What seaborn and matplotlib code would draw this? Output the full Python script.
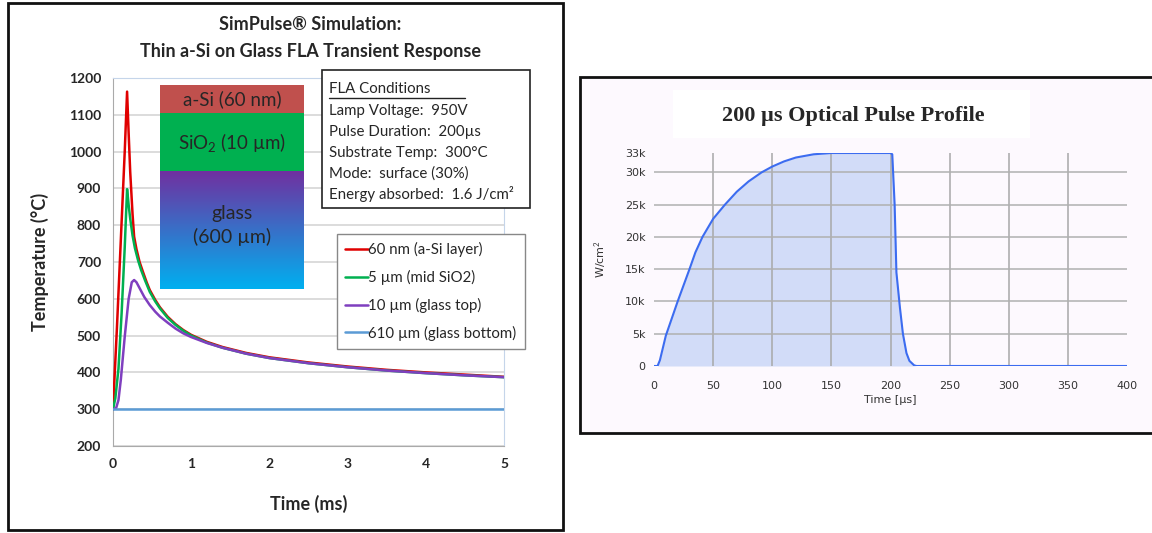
import numpy as np
import pandas as pd
import matplotlib.pyplot as plt
import seaborn as sns
from matplotlib.patches import Rectangle

# data
t_asi = [0, 0.05, 0.10, 0.15, 0.18, 0.20, 0.22, 0.25, 0.27, 0.30, 0.34, 0.38, 0.43, 0.47, 0.54,
         0.60, 0.70, 0.80, 0.90, 1.0, 1.2, 1.4, 1.7, 2.0, 2.5, 3.0, 3.5, 4.0, 4.5, 5.0]
temp_asi = [300, 520, 760, 1000, 1163, 1050, 945, 830, 769, 735, 700, 675, 645, 624, 597,
            577, 551, 531, 515, 502, 483, 469, 453, 441, 427, 416, 407, 400, 394, 388]

t_sio2 = [0, 0.03, 0.07, 0.11, 0.15, 0.18, 0.20, 0.22, 0.25, 0.28, 0.32, 0.36, 0.41, 0.47, 0.54,
          0.60, 0.70, 0.80, 0.90, 1.0, 1.2, 1.4, 1.7, 2.0, 2.5, 3.0, 3.5, 4.0, 4.5, 5.0]
temp_sio2 = [300, 330, 410, 560, 740, 898, 855, 818, 772, 738, 705, 678, 650, 619, 593,
             574, 548, 529, 513, 500, 481, 467, 451, 439, 425, 414, 405, 398, 392, 387]

t_glass = [0, 0.04, 0.07, 0.10, 0.15, 0.20, 0.24, 0.27, 0.30, 0.35, 0.40, 0.47, 0.54, 0.60,
           0.70, 0.80, 0.90, 1.0, 1.2, 1.4, 1.7, 2.0, 2.5, 3.0, 3.5, 4.0, 4.5, 5.0]
temp_glass = [300, 303, 325, 380, 497, 600, 645, 651, 645, 625, 605, 583, 565, 552,
              535, 519, 506, 496, 480, 467, 451, 439, 425, 414, 405, 398, 392, 387]

t_bottom = [0, 5]
temp_bottom = [300, 300]

series_names = ["60 nm (a-Si layer)", "5 µm (mid SiO2)", "10 µm (glass top)", "610 µm (glass bottom)"]
series_colors = ["#e00000", "#00b050", "#7f3fbf", "#5b9bd5"]

pulse_t = [0, 3, 5, 10, 20, 30, 35, 41, 50, 60, 70, 80, 91, 100, 110, 120, 135, 150, 200,
           201.5, 203.5, 205, 208, 210.5, 213.5, 216, 220, 222, 400]
pulse_w = [0, 0, 900, 4700, 10000, 15000, 17600, 20000, 22800, 25000, 27000, 28600, 30000, 30900,
           31700, 32300, 32800, 33000, 33000, 32800, 25000, 14500, 9000, 5000, 2000, 800, 100, 0, 0]

fla_lines = ["Lamp Voltage:  950V", "Pulse Duration:  200µs", "Substrate Temp:  300°C",
             "Mode:  surface (30%)", "Energy absorbed:  1.6 J/cm²"]

frames = []
for name, t, v in zip(series_names, [t_asi, t_sio2, t_glass, t_bottom],
                      [temp_asi, temp_sio2, temp_glass, temp_bottom]):
    frames.append(pd.DataFrame({"time": t, "temp": v, "depth": name}))
df = pd.concat(frames, ignore_index=True)
pulse = pd.DataFrame({"time": pulse_t, "power": pulse_w})

sns.set_style("white")
plt.rcParams["font.family"] = ["Lato", "DejaVu Sans"]
plt.rcParams["mathtext.fontset"] = "custom"
plt.rcParams["mathtext.rm"] = "Lato"

fig = plt.figure(figsize=(11.52, 5.33), dpi=100)
W, H = 1152, 533

def fx(px):
    return px / W

def fy(py):
    return 1 - py / H

# panel frames (behind the axes)
fig.patches.append(Rectangle((fx(8), fy(530)), fx(555), 527 / H, transform=fig.transFigure,
                             facecolor="white", edgecolor="#111111", lw=2, zorder=-2))
fig.patches.append(Rectangle((fx(580), fy(433)), fx(600), 356 / H, transform=fig.transFigure,
                             facecolor="#fdf9fe", edgecolor="#111111", lw=2, zorder=-2))
fig.patches.append(Rectangle((fx(673), fy(138)), fx(357), 48 / H, transform=fig.transFigure,
                             facecolor="white", edgecolor="none", zorder=-1))

# ---- left: temperature transient
ax1 = fig.add_axes([fx(113), fy(446), fx(391), 368 / H])
ax1.set_facecolor("none")
sns.lineplot(data=df, x="time", y="temp", hue="depth", palette=series_colors,
             hue_order=series_names, lw=1.8, ax=ax1, legend=False, sort=False, zorder=3)
ax1.yaxis.grid(True, color="#d9d9d9", lw=1.3)
ax1.set_axisbelow(True)
ax1.tick_params(axis="both", direction="out", length=5, color="#999999", labelsize=10)
for s in ["left", "bottom"]:
    ax1.spines[s].set_color("#aaaaaa")
for s in ["top", "right"]:
    ax1.spines[s].set_color("#c5d5ea")
ax1.set_xlabel("Time (ms)", fontsize=13, fontweight="bold", labelpad=18)
ax1.set_ylabel("Temperature (°C)", fontsize=13, fontweight="bold", labelpad=14)
fig.text(fx(310), fy(25), "SimPulse® Simulation:", ha="center", va="center", fontsize=13, fontweight="bold")
fig.text(fx(310), fy(51), "Thin a-Si on Glass FLA Transient Response", ha="center", va="center",
         fontsize=13, fontweight="bold")

# layer stack
x0, x1 = 0.6, 2.44
ax1.add_patch(Rectangle((x0, 1105), x1 - x0, 1181 - 1105, facecolor="#c0504d", edgecolor="none", zorder=2))
ax1.add_patch(Rectangle((x0, 947), x1 - x0, 1105 - 947, facecolor="#00b050", edgecolor="none", zorder=2))
grad = np.linspace(0, 1, 256).reshape(-1, 1)
cmap = sns.blend_palette(["#7030a0", "#00b0f0"], as_cmap=True)
ax1.imshow(grad, extent=[x0, x1, 627, 947], origin="upper", cmap=cmap, aspect="auto", zorder=2)
ax1.set_xlim(0, 5)
ax1.set_ylim(200, 1200)
ax1.set_xticks(range(0, 6))
ax1.set_yticks(range(200, 1201, 100))
for lab in ax1.get_xticklabels() + ax1.get_yticklabels():
    lab.set_fontweight("bold")
xc = (x0 + x1) / 2
ax1.text(xc, 1143, "a-Si (60 nm)", ha="center", va="center", fontsize=13.5, zorder=4)
ax1.text(xc, 1024, "SiO$\\mathregular{_2}$ (10 µm)", ha="center", va="center", fontsize=13.5, zorder=4)
ax1.text(xc, 800, "glass\n(600 µm)", ha="center", va="center", fontsize=14, linespacing=1.4, zorder=4)

# FLA conditions box
fig.patches.append(Rectangle((fx(322), fy(208)), fx(208), 138 / H, transform=fig.transFigure,
                             facecolor="white", edgecolor="#222222", lw=1.2, zorder=5))
fig.text(fx(329), fy(89), "FLA Conditions", ha="left", va="center", fontsize=10.8, zorder=6)
fig.add_artist(plt.Line2D([fx(329), fx(465)], [fy(98), fy(98)], color="#222222", lw=1, zorder=6))
for i, line in enumerate(fla_lines):
    fig.text(fx(329), fy(111 + i * 20.8), line, ha="left", va="center", fontsize=10.8, zorder=6)

handles = [plt.Line2D([], [], color=c, lw=1.8) for c in series_colors]
leg = ax1.legend(handles, series_names, loc="upper left", bbox_to_anchor=(fx(337), fy(234)),
                 bbox_transform=fig.transFigure, borderaxespad=0, fontsize=10.8, handlelength=1.5,
                 handletextpad=0.05, labelspacing=0.85, fancybox=False, framealpha=1,
                 edgecolor="#888888", borderpad=0.55)
leg.set_zorder(6)

# ---- right: optical pulse profile
ax2 = fig.add_axes([fx(654), fy(366), fx(473), 213 / H])
ax2.set_facecolor("none")
ax2.fill_between(pulse["time"], pulse["power"], color="#d2dcf8", lw=0, zorder=1)
sns.lineplot(data=pulse, x="time", y="power", color="#3c6cf0", lw=1.5, ax=ax2, zorder=3)
ax2.set_xlim(0, 400)
ax2.set_ylim(0, 33000)
ax2.set_xticks(range(0, 401, 50))
ax2.set_yticks([0, 5000, 10000, 15000, 20000, 25000, 30000, 33000])
ax2.set_yticklabels(["0", "5k", "10k", "15k", "20k", "25k", "30k", "33k"])
for v in range(50, 400, 50):
    ax2.axvline(v, color="#a8a8a8", lw=1.1, zorder=2)
for v in range(5000, 30001, 5000):
    ax2.axhline(v, color="#b0b0b0", lw=1.1, zorder=2)
for s in ax2.spines.values():
    s.set_visible(False)
ax2.tick_params(axis="x", length=2, color="#cccccc", labelsize=8, labelcolor="#333333", pad=9)
ax2.tick_params(axis="y", length=0, labelsize=8, labelcolor="#333333", pad=6)
for lab in ax2.get_xticklabels() + ax2.get_yticklabels():
    lab.set_fontfamily("DejaVu Sans")
ax2.set_xlabel("Time [µs]", fontsize=8, color="#333333", family="DejaVu Sans", labelpad=3)
ax2.set_ylabel("W/cm$^2$", fontsize=8, color="#333333", family="DejaVu Sans", labelpad=12)
fig.text(fx(853), fy(116), "200 µs Optical Pulse Profile", ha="center", va="center",
         fontsize=16, fontweight="bold", family="Liberation Serif")

fig.savefig("out.png", dpi=100)
